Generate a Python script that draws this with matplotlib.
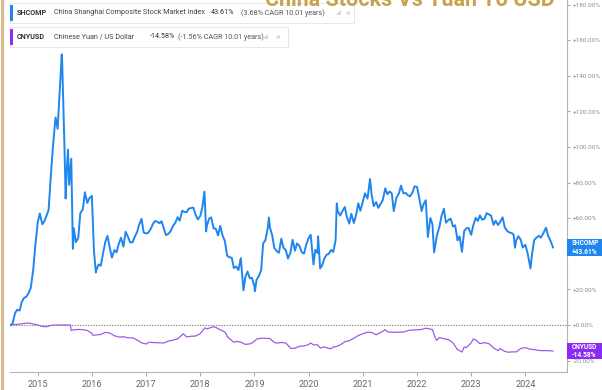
import pandas as pd
import matplotlib
matplotlib.use("Agg")
import matplotlib.pyplot as plt
import matplotlib.dates as mdates
from matplotlib.patches import Rectangle
from matplotlib.lines import Line2D

# Shanghai Composite, % change since Jul 2014 (semi-monthly closes plus key turning points)
shcomp_dates = [
    "2014-07-01", "2014-07-15", "2014-08-01", "2014-08-15", "2014-09-01", "2014-09-15",
    "2014-10-01", "2014-10-15", "2014-11-01", "2014-11-15", "2014-12-01", "2014-12-15",
    "2015-01-01", "2015-01-15", "2015-02-01", "2015-02-15", "2015-03-01", "2015-03-15",
    "2015-04-01", "2015-04-15", "2015-05-01", "2015-05-15", "2015-06-01", "2015-06-12",
    "2015-06-15", "2015-07-01", "2015-07-08", "2015-07-15", "2015-07-24", "2015-08-01",
    "2015-08-15", "2015-08-26", "2015-09-01", "2015-09-15", "2015-10-01", "2015-10-15",
    "2015-11-01", "2015-11-15", "2015-12-01", "2015-12-15",
    "2016-01-01", "2016-01-15", "2016-01-28", "2016-02-01", "2016-02-15", "2016-03-01",
    "2016-03-15", "2016-04-01", "2016-04-15", "2016-05-01", "2016-05-15", "2016-06-01",
    "2016-06-15", "2016-07-01", "2016-07-15", "2016-08-01", "2016-08-15", "2016-09-01",
    "2016-09-15", "2016-10-01", "2016-10-15", "2016-11-01", "2016-11-15", "2016-12-01",
    "2016-12-15",
    "2017-01-01", "2017-01-15", "2017-02-01", "2017-02-15", "2017-03-01", "2017-03-15",
    "2017-04-01", "2017-04-15", "2017-05-01", "2017-05-15", "2017-06-01", "2017-06-15",
    "2017-07-01", "2017-07-15", "2017-08-01", "2017-08-15", "2017-09-01", "2017-09-15",
    "2017-10-01", "2017-10-15", "2017-11-01", "2017-11-15", "2017-12-01", "2017-12-15",
    "2018-01-01", "2018-01-15", "2018-01-29", "2018-02-09", "2018-02-15", "2018-03-01",
    "2018-03-15", "2018-04-01", "2018-04-15", "2018-05-01", "2018-05-15", "2018-06-01",
    "2018-06-15", "2018-07-01", "2018-07-15", "2018-08-01", "2018-08-15", "2018-09-01",
    "2018-09-15", "2018-10-01", "2018-10-19", "2018-11-01", "2018-11-15", "2018-12-01",
    "2018-12-15",
    "2019-01-01", "2019-01-04", "2019-01-15", "2019-02-01", "2019-02-15", "2019-03-01",
    "2019-03-15", "2019-04-01", "2019-04-08", "2019-04-15", "2019-05-01", "2019-05-15",
    "2019-06-01", "2019-06-15", "2019-07-01", "2019-07-15", "2019-08-01", "2019-08-15",
    "2019-09-01", "2019-09-15", "2019-10-01", "2019-10-15", "2019-11-01", "2019-11-15",
    "2019-12-01", "2019-12-15",
    "2020-01-01", "2020-01-15", "2020-02-03", "2020-02-15", "2020-03-01", "2020-03-05",
    "2020-03-19", "2020-04-01", "2020-04-15", "2020-05-01", "2020-05-15", "2020-06-01",
    "2020-06-15", "2020-07-01", "2020-07-09", "2020-07-15", "2020-08-01", "2020-08-15",
    "2020-09-01", "2020-09-15", "2020-10-01", "2020-10-15", "2020-11-01", "2020-11-15",
    "2020-12-01", "2020-12-15",
    "2021-01-01", "2021-01-15", "2021-02-01", "2021-02-18", "2021-03-01", "2021-03-15",
    "2021-04-01", "2021-04-15", "2021-05-01", "2021-05-15", "2021-06-01", "2021-06-15",
    "2021-07-01", "2021-07-15", "2021-07-28", "2021-08-15", "2021-09-01", "2021-09-15",
    "2021-10-01", "2021-10-15", "2021-11-01", "2021-11-15", "2021-12-01", "2021-12-15",
    "2022-01-01", "2022-01-15", "2022-02-01", "2022-02-15", "2022-03-01", "2022-03-15",
    "2022-04-01", "2022-04-15", "2022-04-26", "2022-05-15", "2022-06-01", "2022-06-15",
    "2022-07-01", "2022-07-15", "2022-08-01", "2022-08-15", "2022-09-01", "2022-09-15",
    "2022-10-01", "2022-10-15", "2022-10-31", "2022-11-15", "2022-12-01", "2022-12-15",
    "2023-01-01", "2023-01-15", "2023-02-01", "2023-02-15", "2023-03-01", "2023-03-15",
    "2023-04-01", "2023-04-15", "2023-05-01", "2023-05-15", "2023-06-01", "2023-06-15",
    "2023-07-01", "2023-07-15", "2023-08-01", "2023-08-15", "2023-09-01", "2023-09-15",
    "2023-10-01", "2023-10-15", "2023-10-23", "2023-11-01", "2023-11-15", "2023-12-01",
    "2023-12-15",
    "2024-01-01", "2024-01-15", "2024-02-02", "2024-02-05", "2024-02-15", "2024-03-01",
    "2024-03-15", "2024-04-01", "2024-04-15", "2024-05-01", "2024-05-20", "2024-06-01",
    "2024-06-15", "2024-07-01", "2024-07-05",
]
shcomp_pct = [
    0.0, 0.8, 6.6, 8.6, 8.1, 12.9,
    15.3, 15.8, 18.0, 20.9, 30.7, 44.0,
    57.8, 62.7, 56.6, 58.4, 61.5, 64.5,
    85.9, 101.7, 116.6, 110.2, 135.5, 152.0,
    146.9, 97.7, 71.1, 85.6, 98.5, 78.7,
    93.4, 42.8, 54.4, 46.6, 48.9, 62.8,
    65.0, 74.6, 68.6, 71.2,
    72.6, 41.5, 29.5, 31.1, 34.0, 33.3,
    39.7, 46.8, 50.1, 43.3, 37.9, 42.1,
    40.8, 45.8, 49.0, 44.0, 52.4, 49.4,
    46.4, 46.5, 49.4, 52.3, 56.4, 59.7,
    52.0,
    51.4, 51.8, 54.1, 56.7, 58.4, 58.1,
    57.2, 58.3, 53.9, 50.5, 51.3, 52.8,
    55.7, 57.2, 60.6, 58.6, 64.2, 63.6,
    63.3, 65.4, 65.7, 66.0, 61.8, 59.3,
    61.3, 66.3, 75.0, 52.6, 56.0, 59.7,
    60.5, 54.3, 54.1, 50.3, 55.7, 50.0,
    47.4, 38.9, 38.1, 37.8, 32.0, 32.9,
    30.8, 37.6, 19.5, 27.1, 30.1, 26.2,
    26.5,
    21.7, 19.0, 25.4, 27.7, 30.8, 46.0,
    47.4, 54.6, 60.4, 55.0, 50.1, 43.3,
    41.4, 40.6, 48.5, 43.5, 41.9, 37.3,
    40.8, 47.9, 41.7, 45.9, 44.3, 41.0,
    40.1, 44.8,
    48.8, 50.7, 34.0, 42.3, 40.5, 49.8,
    31.8, 33.4, 37.1, 39.5, 39.9, 42.2,
    41.0, 47.6, 68.3, 64.0, 61.5, 63.9,
    66.3, 60.7, 57.0, 62.5, 57.3, 61.5,
    68.4, 64.2,
    69.4, 74.0, 71.0, 82.0, 73.2, 66.8,
    69.1, 65.8, 68.1, 70.2, 76.8, 73.5,
    75.0, 73.9, 64.0, 71.5, 74.0, 78.3,
    74.0, 74.2, 72.9, 72.3, 74.4, 77.9,
    77.6, 71.8, 64.0, 68.1, 70.1, 49.5,
    60.1, 56.6, 40.8, 50.4, 55.2, 61.2,
    65.3, 57.5, 59.0, 59.8, 55.3, 56.0,
    47.5, 49.8, 41.1, 52.9, 54.4, 54.5,
    50.7, 55.9, 60.2, 58.5, 61.6, 59.2,
    59.7, 62.8, 62.1, 61.5, 56.3, 58.6,
    56.2, 57.9, 60.5, 54.9, 52.8, 52.0,
    51.7, 50.6, 43.4, 47.5, 49.9, 47.9,
    43.5,
    45.1, 40.8, 33.2, 31.8, 39.8, 47.7,
    49.0, 50.1, 49.1, 51.5, 54.7, 50.5,
    48.0, 44.7, 43.61,
]

# Chinese Yuan / US Dollar, % change since Jul 2014
cny_dates = [
    "2014-07-01", "2014-08-01", "2014-09-01", "2014-10-01", "2014-11-01", "2014-12-01",
    "2015-01-01", "2015-02-01", "2015-03-01", "2015-04-01", "2015-05-01", "2015-06-01",
    "2015-07-01", "2015-08-10", "2015-08-13", "2015-09-01", "2015-10-01", "2015-11-01",
    "2015-12-01", "2015-12-31",
    "2016-01-08", "2016-02-01", "2016-03-01", "2016-04-01", "2016-05-01", "2016-06-01",
    "2016-07-01", "2016-08-01", "2016-09-01", "2016-10-01", "2016-11-01", "2016-12-01",
    "2017-01-01", "2017-01-15", "2017-02-01", "2017-03-01", "2017-04-01", "2017-05-01",
    "2017-06-01", "2017-07-01", "2017-08-01", "2017-09-08", "2017-10-01", "2017-11-01",
    "2017-12-01",
    "2018-01-01", "2018-02-01", "2018-02-15", "2018-03-26", "2018-04-15", "2018-05-01",
    "2018-06-01", "2018-06-20", "2018-07-01", "2018-08-15", "2018-09-01", "2018-10-01",
    "2018-10-31", "2018-12-01", "2018-12-20",
    "2019-01-15", "2019-02-01", "2019-03-01", "2019-04-15", "2019-05-15", "2019-06-01",
    "2019-07-01", "2019-08-01", "2019-09-03", "2019-10-01", "2019-11-01", "2019-12-01",
    "2019-12-31",
    "2020-01-15", "2020-02-03", "2020-03-01", "2020-03-20", "2020-04-15", "2020-05-27",
    "2020-06-15", "2020-07-01", "2020-08-01", "2020-09-01", "2020-10-01", "2020-11-01",
    "2020-12-01",
    "2021-01-01", "2021-02-01", "2021-03-01", "2021-03-31", "2021-05-01", "2021-05-31",
    "2021-06-20", "2021-07-01", "2021-08-01", "2021-09-01", "2021-10-01", "2021-11-01",
    "2021-12-01",
    "2022-01-01", "2022-02-01", "2022-03-01", "2022-04-01", "2022-04-15", "2022-05-01",
    "2022-05-13", "2022-06-01", "2022-07-01", "2022-08-01", "2022-09-01", "2022-09-28",
    "2022-10-31", "2022-11-15", "2022-12-01",
    "2023-01-01", "2023-01-15", "2023-02-01", "2023-03-01", "2023-04-01", "2023-05-01",
    "2023-06-01", "2023-07-01", "2023-07-15", "2023-08-15", "2023-09-08", "2023-10-01",
    "2023-11-01", "2023-11-15", "2023-12-01",
    "2024-01-01", "2024-02-01", "2024-03-01", "2024-04-01", "2024-05-01", "2024-06-01",
    "2024-07-05",
]
cny_pct = [
    0.0, 0.3, 0.5, 0.9, 1.1, 0.6,
    0.0, -0.8, -1.0, -0.2, 0.0, 0.0,
    0.0, 0.0, -3.0, -2.7, -2.5, -2.6,
    -3.1, -4.6,
    -5.8, -5.6, -5.3, -4.1, -4.5, -6.0,
    -6.8, -6.6, -7.2, -7.2, -8.4, -10.0,
    -10.7, -9.8, -9.8, -9.9, -10.0, -10.1,
    -9.0, -8.5, -7.8, -4.9, -6.7, -6.3,
    -6.2,
    -4.8, -1.6, -2.2, -1.0, -1.3, -2.1,
    -3.3, -4.3, -6.5, -9.7, -9.2, -9.6,
    -10.9, -10.6, -9.9,
    -8.0, -7.6, -7.4, -7.6, -9.8, -10.2,
    -9.8, -10.1, -13.2, -13.0, -11.9, -11.8,
    -11.0,
    -10.1, -11.2, -11.1, -12.9, -12.3, -13.4,
    -12.4, -12.2, -11.2, -9.4, -8.8, -7.4,
    -5.9,
    -4.9, -4.0, -4.2, -5.5, -4.2, -2.6,
    -4.0, -4.0, -4.1, -4.0, -4.0, -3.1,
    -2.8,
    -2.7, -2.5, -1.8, -2.3, -2.6, -6.6,
    -8.7, -7.0, -7.7, -8.2, -10.1, -13.5,
    -15.2, -12.4, -12.6,
    -10.0, -7.9, -8.4, -10.5, -9.9, -10.5,
    -12.9, -14.4, -13.2, -14.8, -15.3, -15.1,
    -15.1, -14.2, -13.2,
    -12.7, -13.6, -13.8, -14.3, -14.4, -14.4,
    -14.58,
]

year_ticks = list(range(2015, 2025))
pct_ticks = list(range(-20, 181, 20))

BLUE = "#1e86ee"
PURPLE = "#9c5ce6"
PURPLE_TAG = "#8a2cf2"
W, H = 602, 390

plt.rcParams["font.family"] = ["Roboto", "DejaVu Sans"]

fig = plt.figure(figsize=(W / 100, H / 100), dpi=100)
fig.patch.set_facecolor("white")
ax = fig.add_axes([10 / W, 18 / H, 557 / W, 372 / H])

sh_x = pd.to_datetime(shcomp_dates)
cn_x = pd.to_datetime(cny_dates)

ax.axhline(0, color="#808080", lw=0.8, ls=(0, (1.2, 1.2)), zorder=1)
ax.plot(cn_x, cny_pct, color=PURPLE, lw=0.9, zorder=2)
ax.plot(sh_x, shcomp_pct, color=BLUE, lw=1.4, zorder=3)

ax.set_xlim(pd.Timestamp("2014-06-28"), pd.Timestamp("2024-10-08"))
ax.set_ylim(-26.4, 182.6)

for side in ("left", "top"):
    ax.spines[side].set_visible(False)
for side in ("right", "bottom"):
    ax.spines[side].set_color("#b4b4b4")
    ax.spines[side].set_linewidth(0.8)

ax.yaxis.tick_right()
ax.set_yticks(pct_ticks)
ax.set_yticklabels([f"{v:+.2f}%" for v in pct_ticks])
ax.tick_params(axis="y", length=2.5, width=0.6, color="#999999", labelcolor="#8c8c8c",
               labelsize=4.6, pad=2)

ax.set_xticks([pd.Timestamp(f"{y}-01-01") for y in year_ticks])
ax.xaxis.set_major_formatter(mdates.DateFormatter("%Y"))
ax.tick_params(axis="x", length=3, width=0.6, color="#999999", labelcolor="#666666",
               labelsize=6.6, pad=2.5)

# value tags on the right axis
for val, name, col in ((shcomp_pct[-1], "SHCOMP", BLUE), (cny_pct[-1], "CNYUSD", PURPLE_TAG)):
    tr = ax.get_yaxis_transform()
    ax.add_patch(Rectangle((1.0, val - 4.6), 0.07, 9.2, transform=tr, facecolor=col,
                           edgecolor="none", clip_on=False, zorder=5))
    ax.text(1.008, val, f"{name}\n{val:+.2f}%", transform=tr, ha="left", va="center",
            color="white", fontsize=4.8, fontweight="bold", linespacing=1.05,
            clip_on=False, zorder=6)


def fx(x):
    return x / W


def fy(y):
    return 1 - y / H


# legend rows
rows = [
    (3, 354, BLUE, [("SHCOMP", 17, "bold", "#333333"),
                    ("China Shanghai Composite Stock Market Index", 54, "normal", "#444444"),
                    ("43.61%", 211, "normal", "#333333"),
                    ("(3.68% CAGR 10.01 years)", 241, "normal", "#555555")], 336, 346),
    (27, 288, PURPLE_TAG, [("CNYUSD", 17, "bold", "#333333"),
                           ("Chinese Yuan / US Dollar", 54, "normal", "#444444"),
                           ("-14.58%", 150, "normal", "#333333"),
                           ("(-1.56% CAGR 10.01 years)", 178, "normal", "#555555")], 263, 276),
]
for top, right, col, parts, icon_x, close_x in rows:
    fig.patches.append(Rectangle((fx(10), fy(top + 20)), fx(right - 10), 20 / H,
                                 transform=fig.transFigure, facecolor="white",
                                 edgecolor="#e4e4e4", lw=0.6, zorder=4))
    fig.patches.append(Rectangle((fx(10), fy(top + 18)), fx(2.5), 16 / H,
                                 transform=fig.transFigure, facecolor=col,
                                 edgecolor="none", zorder=5))
    ymid = fy(top + 10)
    for txt, x, wt, c in parts:
        fig.text(fx(x), ymid, txt, fontsize=5.2, fontweight=wt, color=c,
                 ha="left", va="center", zorder=6)
    fig.text(fx(icon_x), ymid, "\u25e2", fontsize=4.5, color="#d0d0d0", ha="left",
             va="center", zorder=6)
    fig.text(fx(close_x), ymid, "\u00d7", fontsize=6.5, color="#c8c8c8", ha="left",
             va="center", zorder=6)

# heading above the chart, mostly off the top edge
fig.text(fx(265), fy(6), "China Stocks Vs Yuan To USD", fontsize=15.5,
         fontweight="bold", color="#c9a24e", ha="left", va="baseline", zorder=7)

# frame edge on the left
fig.add_artist(Line2D([fx(1.5), fx(1.5)], [0, 1], color="#d9b98c", lw=2.2))

fig.savefig("out.png", dpi=100)
